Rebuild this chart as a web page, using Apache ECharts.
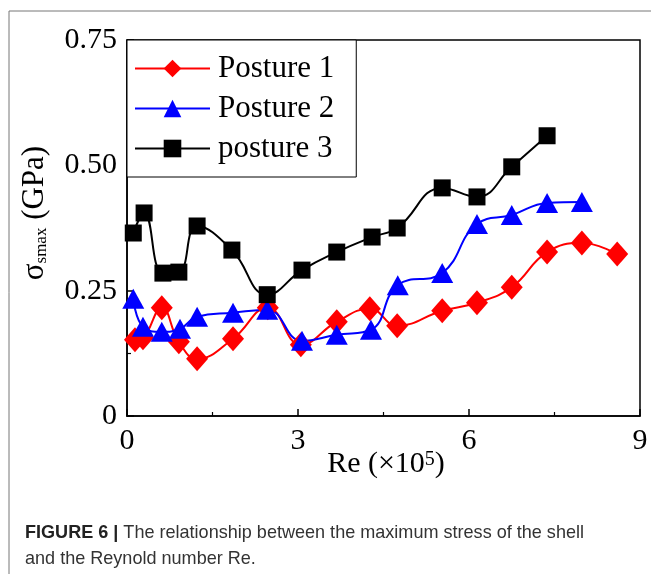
<!DOCTYPE html>
<html><head><meta charset="utf-8">
<script src="https://cdn.jsdelivr.net/npm/echarts@6/dist/echarts.min.js"></script>
<style>html,body{margin:0;padding:0;background:#fff}#c{width:651px;height:574px}</style>
</head><body><div id="c"></div>
<script>
// ---- data ----
const xTickLabels = ['0', '3', '6', '9'];
const yTickLabels = ['0', '0.25', '0.50', '0.75'];
const seriesNames = ['Posture 1', 'Posture 2', 'posture 3'];

const posture1X = [0.14, 0.28, 0.61, 0.91, 1.23, 1.86, 2.47, 3.05, 3.68, 4.26, 4.74, 5.53, 6.14, 6.75, 7.37, 7.98, 8.60];
const posture1Y = [0.152, 0.156, 0.216, 0.148, 0.114, 0.154, 0.216, 0.142, 0.188, 0.214, 0.180, 0.210, 0.226, 0.257, 0.327, 0.345, 0.323];

const posture2X = [0.11, 0.28, 0.61, 0.93, 1.23, 1.86, 2.46, 3.07, 3.68, 4.28, 4.75, 5.53, 6.14, 6.75, 7.37, 7.98];
const posture2Y = [0.234, 0.178, 0.168, 0.174, 0.198, 0.206, 0.212, 0.150, 0.162, 0.172, 0.261, 0.285, 0.383, 0.401, 0.425, 0.427];

const posture3X = [0.11, 0.30, 0.63, 0.91, 1.23, 1.84, 2.46, 3.07, 3.68, 4.30, 4.74, 5.53, 6.14, 6.75, 7.37];
const posture3Y = [0.365, 0.405, 0.285, 0.287, 0.379, 0.331, 0.242, 0.291, 0.327, 0.357, 0.375, 0.455, 0.437, 0.497, 0.559];

const captionBold = 'FIGURE 6 |';
const captionRest1 = ' The relationship between the maximum stress of the shell';
const captionLine2 = 'and the Reynold number Re.';

// ---- helpers ----
function pairs(xs, ys) { return xs.map((x, i) => [x, ys[i]]); }
const serif = '"Liberation Serif", "Times New Roman", serif';
const sans = '"Liberation Sans", Arial, sans-serif';
const capSize = 19;
const mctx = document.createElement('canvas').getContext('2d');
function tw(font, t) { mctx.font = font; return mctx.measureText(t).width; }
const w1 = tw('bold ' + capSize + 'px ' + sans, captionBold) + tw(capSize + 'px ' + sans, captionRest1);
const s1 = 559 / w1;

const chart = echarts.init(document.getElementById('c'));
const axisCommon = {
  axisLine: { show: true, lineStyle: { color: '#000', width: 1.5 } },
  axisTick: { show: true, inside: true, length: 7, lineStyle: { color: '#000', width: 1.5 } },
  minorTick: { show: true, splitNumber: 2, length: 4, lineStyle: { color: '#000', width: 1.2 } },
  splitLine: { show: false },
  minorSplitLine: { show: false }
};
const mk = (name, xs, ys, color, symbol, size) => ({
  name, type: 'line', data: pairs(xs, ys), smooth: 0.45,
  symbol, symbolSize: size,
  lineStyle: { color, width: 2 },
  itemStyle: { color, borderWidth: 0 },
  emphasis: { disabled: true }
});

chart.setOption({
  animation: false,
  backgroundColor: '#fff',
  grid: { left: 127, right: 11, top: 40, bottom: 158, show: true, borderColor: '#000', borderWidth: 1.5 },
  legend: {
    orient: 'vertical', left: 127, top: 40,
    data: seriesNames,
    itemWidth: 75, itemHeight: 22, itemGap: 9,
    padding: [13, 22, 13, 7],
    borderColor: '#000', borderWidth: 1, backgroundColor: '#fff',
    textStyle: { fontFamily: serif, fontSize: 31, color: '#000', padding: [0, 0, 0, 3] }
  },
  xAxis: Object.assign({
    type: 'value', min: 0, max: 9, interval: 3,
    axisLabel: { fontFamily: serif, fontSize: 30, color: '#000', margin: 10,
      formatter: v => xTickLabels[Math.round(v / 3)] }
  }, axisCommon),
  yAxis: Object.assign({
    type: 'value', min: 0, max: 0.75, interval: 0.25,
    axisLabel: { fontFamily: serif, fontSize: 30, color: '#000', margin: 10,
      formatter: v => yTickLabels[Math.round(v / 0.25)] }
  }, axisCommon),
  series: [
    mk(seriesNames[0], posture1X, posture1Y, '#ff0000', 'diamond', [22, 25]),
    mk(seriesNames[1], posture2X, posture2Y, '#0000ff', 'triangle', [22, 20]),
    mk(seriesNames[2], posture3X, posture3Y, '#000000', 'rect', 17)
  ],
  graphic: [
    { type: 'line', shape: { x1: 9, y1: 11, x2: 651, y2: 11 }, style: { stroke: '#777', lineWidth: 1 }, silent: true },
    { type: 'line', shape: { x1: 9, y1: 11, x2: 9, y2: 574 }, style: { stroke: '#777', lineWidth: 1 }, silent: true },
    { type: 'text', x: 35, y: 213, rotation: Math.PI / 2, silent: true,
      style: { text: '{m|σ}{s|smax}{m| (GPa)}', align: 'center', verticalAlign: 'middle',
        rich: {
          m: { fontFamily: serif, fontSize: 31, lineHeight: 31, verticalAlign: 'top', fill: '#000' },
          s: { fontFamily: serif, fontSize: 17, lineHeight: 17, padding: [18, 0, 0, 0], verticalAlign: 'bottom', fill: '#000' }
        } } },
    { type: 'text', x: 386, y: 464.5, silent: true,
      style: { text: '{m|Re (×10}{p|5}{m|)}', align: 'center', verticalAlign: 'middle',
        rich: {
          m: { fontFamily: serif, fontSize: 30, lineHeight: 30, padding: [7, 0, 0, 0], verticalAlign: 'bottom', fill: '#000' },
          p: { fontFamily: serif, fontSize: 20, lineHeight: 20, verticalAlign: 'top', fill: '#000' }
        } } },
    { type: 'text', x: 25, y: 532.4, scaleX: s1, silent: true,
      style: { text: '{b|' + captionBold + '}{n|' + captionRest1 + '}', align: 'left', verticalAlign: 'middle',
        rich: {
          b: { fontFamily: sans, fontSize: capSize, fontWeight: 'bold', fill: '#222' },
          n: { fontFamily: sans, fontSize: capSize, fill: '#333' }
        } } },
    { type: 'text', x: 25, y: 558.4, scaleX: s1, silent: true,
      style: { text: captionLine2, align: 'left', verticalAlign: 'middle',
        fontFamily: sans, fontSize: capSize, fill: '#333' } }
  ]
});
</script></body></html>
